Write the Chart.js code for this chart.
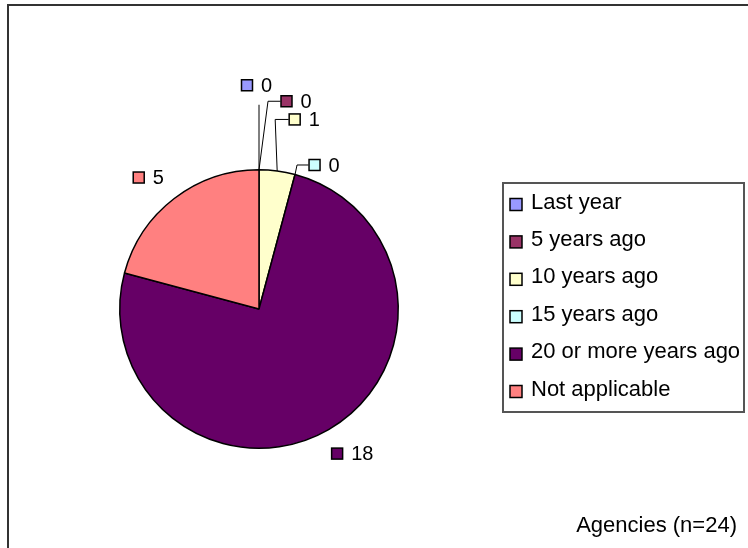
<!DOCTYPE html>
<html>
<head>
<meta charset="utf-8">
<script src="https://cdn.jsdelivr.net/npm/chart.js@4"></script>
<style>
  body { margin: 0; background: #fff; }
  #wrap { width: 748px; height: 548px; position: relative; }
</style>
</head>
<body>
<div id="wrap"><canvas id="pie"></canvas></div>
<script>
var categories = ["Last year", "5 years ago", "10 years ago", "15 years ago", "20 or more years ago", "Not applicable"];
var counts = [0, 0, 1, 0, 18, 5];
var colours = ["#9999FF", "#993366", "#FFFFCC", "#CCFFFF", "#660066", "#FF8080"];
var footnote = "Agencies (n=24)";

// where each value label sits, relative to its slice's mid point on the rim
var labelBox = [[-12, -84.5], [27.5, -68.5], [17.5, -51.5], [19.5, -9.5], [8.5, 24], [-35.5, -21]];
// leader elbow (relative to rim point), null = no leader
var leaderElbow = [[0, -65], [9, -68.5], [-2, -51.5], [2, -9.5], null, null];
var leaderToBox = [false, true, true, true, false, false];

var FONT = '20px "Liberation Sans", Arial, sans-serif';
var LEGEND_FONT = '22px "Liberation Sans", Arial, sans-serif';

function square(ctx, cx, cy, size, fill) {
    ctx.fillStyle = fill;
    ctx.fillRect(cx - size / 2, cy - size / 2, size, size);
    ctx.lineWidth = 1.5;
    ctx.strokeStyle = "#000";
    ctx.strokeRect(cx - size / 2, cy - size / 2, size, size);
}

var decorations = {
    id: "decorations",
    beforeDraw: function (chart) {
        var ctx = chart.ctx;
        ctx.save();
        ctx.fillStyle = "#fff";
        ctx.fillRect(0, 0, chart.width, chart.height);
        ctx.strokeStyle = "#333";
        ctx.lineWidth = 2;
        ctx.strokeRect(8, 5, 800, 600);
        ctx.restore();
    },
    afterDraw: function (chart) {
        var ctx = chart.ctx;
        var arcs = chart.getDatasetMeta(0).data;
        ctx.save();
        ctx.font = FONT;
        ctx.textBaseline = "middle";

        // value labels with leader lines
        arcs.forEach(function (arc, i) {
            var mid = (arc.startAngle + arc.endAngle) / 2;
            var ax = arc.x + arc.outerRadius * Math.cos(mid);
            var ay = arc.y + arc.outerRadius * Math.sin(mid);
            var bx = ax + labelBox[i][0];
            var by = ay + labelBox[i][1];
            if (leaderElbow[i]) {
                ctx.beginPath();
                ctx.strokeStyle = "#000";
                ctx.lineWidth = 1;
                ctx.moveTo(ax, ay);
                ctx.lineTo(ax + leaderElbow[i][0], ay + leaderElbow[i][1]);
                if (leaderToBox[i]) ctx.lineTo(bx - 6, by);
                ctx.stroke();
            }
            square(ctx, bx, by, 11, colours[i]);
            ctx.fillStyle = "#000";
            ctx.textAlign = "left";
            ctx.fillText(String(counts[i]), bx + 14, by + 1);
        });

        // legend box
        ctx.strokeStyle = "#555";
        ctx.lineWidth = 2;
        ctx.strokeRect(503, 183, 241, 229);
        ctx.font = LEGEND_FONT;
        categories.forEach(function (name, i) {
            var y = 204.5 + i * 37.4;
            square(ctx, 516, y, 12, colours[i]);
            ctx.fillStyle = "#000";
            ctx.fillText(name, 531, y - 2);
        });

        ctx.textAlign = "right";
        ctx.fillText(footnote, 737, 526);
        ctx.restore();
    }
};

new Chart(document.getElementById("pie").getContext("2d"), {
    type: "pie",
    data: {
        labels: categories,
        datasets: [{
            data: counts,
            backgroundColor: colours,
            borderColor: "#000",
            borderWidth: 1.5
        }]
    },
    options: {
        responsive: true,
        maintainAspectRatio: false,
        animation: false,
        events: [],
        layout: { padding: { left: 119, top: 169, right: 349, bottom: 99 } },
        plugins: {
            legend: { display: false },
            tooltip: { enabled: false }
        }
    },
    plugins: [decorations]
});
</script>
</body>
</html>
